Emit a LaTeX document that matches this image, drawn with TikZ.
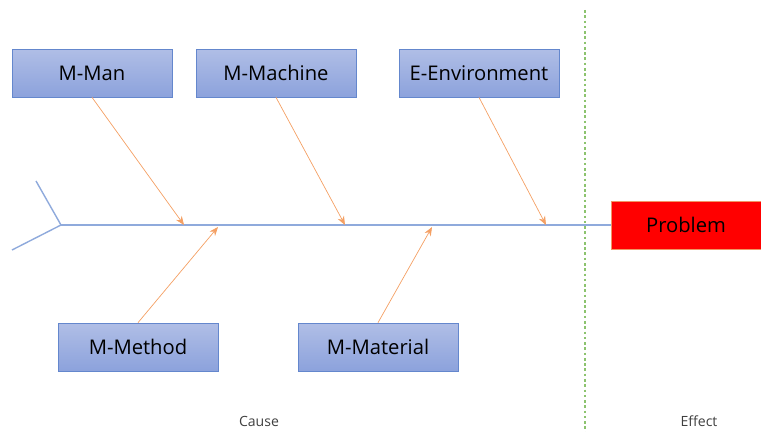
\documentclass[tikz,border=0pt]{standalone}
\usepackage{fontspec}
\setmainfont{Open Sans}
\definecolor{boxtop}{RGB}{176,190,230}
\definecolor{boxbot}{RGB}{140,162,220}
\definecolor{boxline}{RGB}{100,135,205}
\definecolor{spineblue}{RGB}{143,170,220}
\definecolor{bonearrow}{RGB}{244,160,100}
\definecolor{probred}{RGB}{255,0,0}
\definecolor{probline}{RGB}{240,150,100}
\definecolor{splitgreen}{RGB}{140,195,110}
\usetikzlibrary{arrows.meta, positioning}

\begin{document}
\begin{tikzpicture}[
        x=0.02cm, y=-0.02cm,
        cause/.style={draw=boxline, top color=boxtop, bottom color=boxbot,
                      minimum width=3.2cm, minimum height=0.96cm,
                      inner sep=0pt, font=\fontsize{11.5}{13}\selectfont},
        effect/.style={draw=probline, fill=probred,
                       minimum width=3cm, minimum height=0.96cm,
                       inner sep=0pt, font=\fontsize{11.5}{13}\selectfont},
        bone/.style={-{Stealth[length=5pt, width=4pt]}, bonearrow, thin},
        spine/.style={spineblue, thick},
        caption/.style={font=\fontsize{8}{10}\selectfont, text=black!75}
      ]
        \useasboundingbox (0,0) rectangle (761,432);
        % categories above and below the spine
        \node[cause] (man) at (92,73) {M-Man};
        \node[cause] (machine) at (276,73) {M-Machine};
        \node[cause] (env) at (479,73) {E-Environment};
        \node[cause] (method) at (138,347) {M-Method};
        \node[cause] (material) at (378,347) {M-Material};
        \node[effect] (problem) at (686,225) {Problem};
        % spine and tail
        \coordinate (head) at (61,225);
        \coordinate (tailup) at (36,181);
        \coordinate (taildown) at (12,250);
        \draw[spine] (head) -- (problem.west);
        \draw[spine] (tailup) -- (head) -- (taildown);
        % bones
        \coordinate (hitman) at (184,225);
        \coordinate (hitmachine) at (345,225);
        \coordinate (hitenv) at (546,225);
        \coordinate (hitmethod) at (218,227);
        \coordinate (hitmaterial) at (432,227);
        \draw[bone] (man.south) -- (hitman);
        \draw[bone] (machine.south) -- (hitmachine);
        \draw[bone] (env.south) -- (hitenv);
        \draw[bone] (method.north) -- (hitmethod);
        \draw[bone] (material.north) -- (hitmaterial);
        % cause / effect split
        \coordinate (splittop) at (585,10);
        \coordinate (splitbot) at (585,432);
        \draw[splitgreen, line width=0.6pt, dash pattern=on 1.5pt off 1.5pt] (splittop) -- (splitbot);
        \node[caption] (causelbl) at (259,421) {Cause};
        \node[caption] (effectlbl) at (699,421) {Effect};
      \end{tikzpicture}
\end{document}
